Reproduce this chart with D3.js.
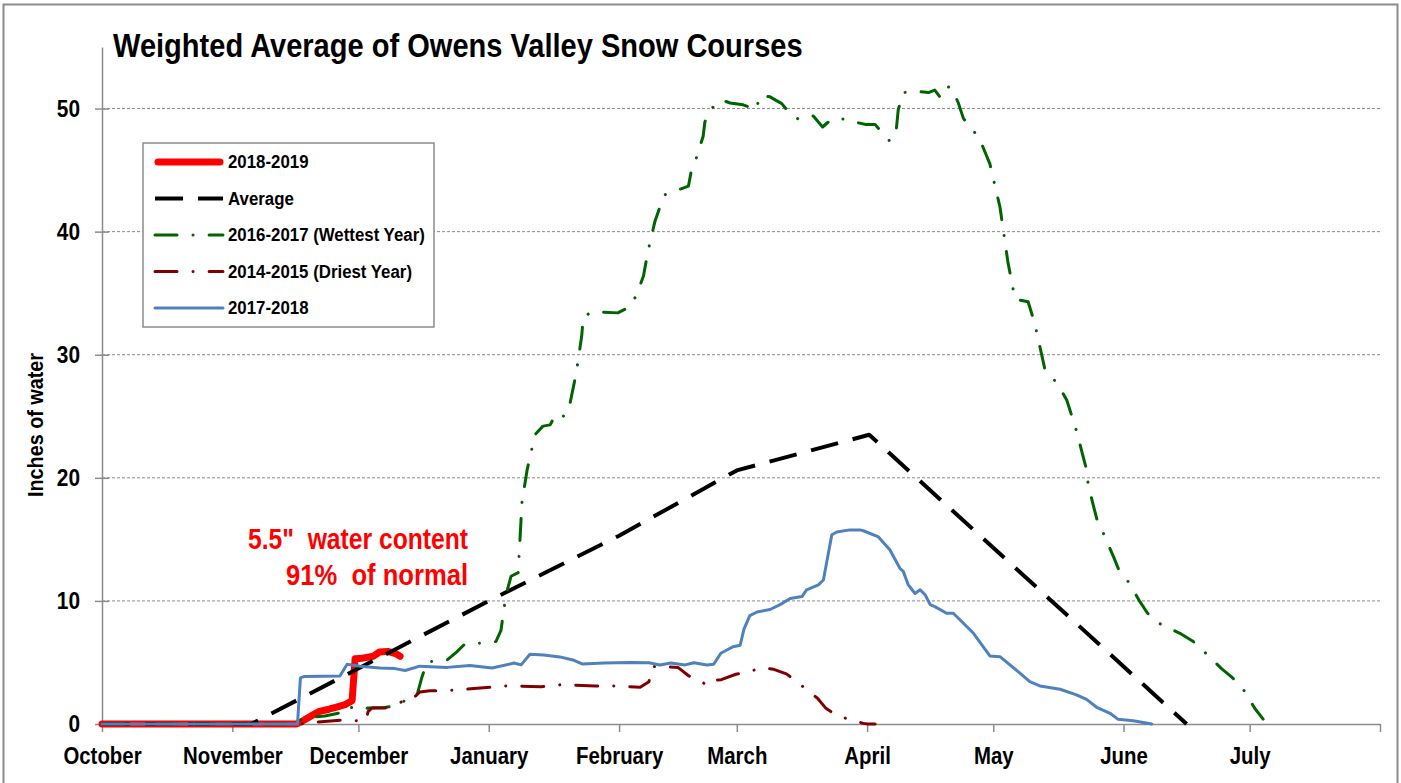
<!DOCTYPE html>
<html><head><meta charset="utf-8">
<script src="https://cdn.jsdelivr.net/npm/d3@7"></script>
<style>
html,body{margin:0;padding:0;background:#fff;}
svg{display:block;}
text{font-family:'Liberation Sans Narrow','Arial Narrow','Liberation Sans',Arial,sans-serif;font-weight:bold;fill:#000;}
</style></head><body>
<svg id="chart" width="1401" height="783"></svg>
<script>
// ---------- data (x = days since Oct 1 2018, y = inches of water) ----------
const monthLabels = ["October","November","December","January","February","March","April","May","June","July",""];
const yTickValues = [0,10,20,30,40,50];
const seriesNames = ["2018-2019","Average","2016-2017 (Wettest Year)","2014-2015 (Driest Year)","2017-2018"];

const season2018_2019 = [[0,0],[46.3,0],[48,0.3],[50,0.7],[51.5,1.0],[54,1.2],[56,1.4],[58,1.6],[59.5,1.9],[60.2,5.3],[62,5.35],[64.5,5.5],[66,5.85],[68,5.9],[70,5.7],[70.9,5.5]];

const averageSeason = [[0,0],[35.5,0],[92,10.0],[123,15.3],[151,20.6],[182.5,23.5],[258,0]];

const wettest2016_2017 = [[0,0],[46,0],[47.6,0.4],[50.2,0.57],[53,0.65],[56.6,0.9],[58,1.4],[60.2,1.3],[61.8,1.15],[63.3,1.3],[67.3,1.35],[69.5,1.45],[72.1,1.9],[74.9,2.3],[76.1,3.8],[77.3,5.05],[82.1,5.2],[84.2,5.8],[86.3,6.5],[91.8,6.6],[93.7,6.7],[94.9,7.6],[96.1,10.5],[97.3,12.0],[99,12.3],[99.9,18],[101.1,20.6],[103,23.5],[104.9,24.2],[106.6,24.3],[108,25.2],[109.9,25.0],[111.3,26.0],[112.8,28.5],[114.1,31.5],[114.5,33.1],[116.8,33.5],[122.7,33.4],[125.6,33.9],[127.2,34.9],[128.8,36.4],[129.6,37.9],[130.4,39.2],[131.5,40.8],[132.7,42.0],[133.9,43.0],[139.5,43.7],[140.1,44.8],[141.3,45.9],[143,47.75],[143.4,48.9],[144.6,49.9],[147.4,50.7],[149.4,50.45],[152.5,50.3],[155.6,49.9],[156.5,51.05],[158.9,50.95],[161.7,50.4],[164.1,49.4],[166,49.1],[169.2,49.4],[171.4,48.5],[173.6,49.15],[176.3,49.15],[179.1,48.9],[181.7,48.7],[183.9,48.7],[187.4,47.35],[188.9,48.15],[189.4,49.9],[190.6,51.3],[193.6,51.4],[196.6,51.3],[198.1,51.5],[199.3,50.95],[200.5,51.8],[202.1,51.7],[203.7,50.45],[204.9,49.2],[206.5,48.55],[208.8,47.5],[211.2,45.5],[213.6,42],[215.5,37.5],[217.2,34.5],[220.3,34.3],[221.9,32.5],[224.3,28.8],[227.4,27.6],[229.5,26.3],[230.9,24.8],[231.8,23.8],[233.4,21.7],[234.2,20.65],[234.6,19.4],[236,17.5],[236.8,16.45],[238.2,15.5],[240.6,13.6],[241.9,12.5],[244.1,11.57],[246.9,9.94],[248.7,9.0],[251.3,8.2],[256.4,7.37],[259.4,6.75],[261.6,6.07],[266.3,4.5],[268.6,3.85],[271.1,3.03],[274.2,1.28],[276.2,0.4]];

const driest2014_2015 = [[0,0],[47.1,0],[50.7,0.15],[56.6,0.3],[60.4,0.27],[62.8,0.3],[63.3,1.0],[64.2,1.3],[67.3,1.3],[69.7,1.6],[72.1,1.9],[73.7,2.0],[75.6,2.6],[78,2.7],[81.1,2.7],[86.3,2.82],[92.3,2.98],[96.1,3.09],[104.4,3.03],[106.6,3.09],[109.4,3.2],[117.3,3.09],[121.6,3.09],[128,2.98],[130.1,3.44],[130.8,4.6],[131.7,4.7],[137,4.6],[139.6,3.9],[142.4,3.44],[144,3.17],[145.1,3.55],[147.3,3.6],[150.8,4.04],[153.9,4.25],[157.1,4.58],[159.8,4.44],[162.8,4.07],[165.3,3.44],[167.9,2.7],[170.2,2.09],[172.2,1.27],[174.6,0.73],[177.9,0.35],[181.1,0.05],[182.2,0],[183.9,0]];

const season2017_2018 = [[0,0],[46.5,0],[47.2,3.75],[48,3.85],[56.6,3.9],[58.3,4.85],[61.4,4.7],[66.1,4.55],[69.7,4.5],[72.1,4.35],[75.6,4.7],[82.1,4.6],[87.5,4.75],[92.8,4.55],[98,4.95],[99.7,4.8],[101.8,5.67],[105.1,5.6],[108.9,5.45],[112,5.2],[114.2,4.88],[119.4,4.95],[125.6,5.0],[130.1,4.97],[132.7,4.8],[135.3,4.95],[138.7,4.8],[140.8,4.98],[143.9,4.8],[145.5,4.85],[147.2,5.75],[150.1,6.28],[151.8,6.4],[152.7,7.7],[154.1,8.8],[155.8,9.1],[158.9,9.3],[161.3,9.7],[163.7,10.2],[166.5,10.35],[167.6,10.9],[170.4,11.3],[171.6,11.7],[173.6,15.37],[174.8,15.6],[177.9,15.77],[180.3,15.77],[181.1,15.7],[184.7,15.2],[187.4,14.15],[189.8,12.65],[190.6,12.4],[191.8,11.3],[193.4,10.6],[194.6,10.9],[195.8,10.5],[197,9.7],[198.1,9.54],[200.9,9.0],[202.5,9.0],[207.3,7.37],[211.2,5.53],[213.6,5.47],[218.4,4.12],[220.7,3.44],[223.1,3.09],[227.9,2.82],[231.8,2.36],[234.2,2.0],[236.6,1.36],[239.8,0.87],[241.7,0.38],[245.3,0.27],[249.7,0]];

const titleText = "Weighted Average of Owens Valley Snow Courses";
const yAxisTitle = "Inches of water";
const noteLines = ["5.5\"  water content", "91%  of normal"];

// ---------- layout ----------
const seasonStart = Date.UTC(2018,9,1);
const seasonEnd = Date.UTC(2019,7,1);
const toDate = d => new Date(seasonStart + d*864e5);
const M = {left:102, right:1380, top:47, bottom:724};

// horizontally condense text (emulates a narrow face)
function squeeze(sel, f){
  sel.each(function(){
    const w = this.getComputedTextLength();
    if (w > 0) d3.select(this).attr("textLength", (w*f).toFixed(1)).attr("lengthAdjust","spacingAndGlyphs");
  });
}

const svg = d3.select("#chart");
const x = d3.scaleUtc().domain([new Date(seasonStart), new Date(seasonEnd)]).range([M.left, M.right]);
const y = d3.scaleLinear().domain([0,55]).range([M.bottom, M.top]);

// outer frame
svg.append("rect").attr("x",3.5).attr("y",4.5).attr("width",1394).attr("height",800)
  .attr("fill","none").attr("stroke","#8c8c8c").attr("stroke-width",2);

// gridlines
svg.append("g").selectAll("line").data(yTickValues.filter(v=>v>0)).join("line")
  .attr("x1",M.left).attr("x2",M.right).attr("y1",d=>y(d)).attr("y2",d=>y(d))
  .attr("stroke","#8a8a8a").attr("stroke-width",1).attr("stroke-dasharray","3,2");

// x axis
const monthTicks = d3.utcMonth.range(new Date(seasonStart), new Date(seasonEnd + 864e5));
const xAxis = svg.append("g").attr("transform",`translate(0,${M.bottom})`)
  .call(d3.axisBottom(x).tickValues(monthTicks).tickSizeInner(8).tickSizeOuter(0).tickPadding(15)
    .tickFormat((d,i)=>monthLabels[i]));
xAxis.select(".domain").attr("stroke","#8c8c8c").attr("stroke-width",1.5);
xAxis.selectAll(".tick line").attr("stroke","#8c8c8c").attr("stroke-width",1.5);
xAxis.selectAll("text").attr("font-size",24).attr("fill","#000");
squeeze(xAxis.selectAll("text"), 0.85);

// y axis
const yAxis = svg.append("g").attr("transform",`translate(${M.left},0)`)
  .call(d3.axisLeft(y).tickValues(yTickValues).tickSizeInner(7).tickSizeOuter(0).tickPadding(15));
yAxis.select(".domain").attr("stroke","#8c8c8c").attr("stroke-width",1.5);
yAxis.selectAll(".tick line").attr("x1",7).attr("stroke","#8c8c8c").attr("stroke-width",1.5);
yAxis.selectAll("text").attr("font-size",24).attr("fill","#000");
squeeze(yAxis.selectAll("text"), 0.87);

// y axis title
const yt = svg.append("text").attr("transform","translate(43,425) rotate(-90)")
  .attr("text-anchor","middle").attr("font-size",22).text(yAxisTitle);
squeeze(yt, 0.9);

// title
const tt = svg.append("text").attr("x",113).attr("y",57).attr("font-size",33).text(titleText);
squeeze(tt, 0.88);

// series
const styles = [
  {data:season2018_2019, color:"#ff0000", width:7, dash:null, cap:"round"},
  {data:averageSeason, color:"#000000", width:4, dash:"28,15", cap:"butt"},
  {data:wettest2016_2017, color:"#006400", width:3, dash:"22,16,0.1,16", cap:"round"},
  {data:driest2014_2015, color:"#800000", width:3, dash:"22,16,0.1,16", cap:"round"},
  {data:season2017_2018, color:"#4f81bd", width:3, dash:null, cap:"round"}
];
const line = d3.line().x(d=>x(toDate(d[0]))).y(d=>y(d[1]));
const gS = svg.append("g");
styles.forEach(s=>{
  gS.append("path").attr("d",line(s.data)).attr("fill","none")
    .attr("stroke",s.color).attr("stroke-width",s.width)
    .attr("stroke-linejoin","round").attr("stroke-linecap",s.cap)
    .attr("stroke-dasharray",s.dash);
});

// legend
const lg = svg.append("g");
lg.append("rect").attr("x",143).attr("y",143).attr("width",291).attr("height",184)
  .attr("fill","#fff").attr("stroke","#8c8c8c").attr("stroke-width",1.5);
const rowY = d3.scalePoint().domain(seriesNames).range([162,308]);
seriesNames.forEach((n,i)=>{
  const s = styles[i];
  const yy = rowY(n);
  const thick = s.width > 5;
  lg.append("line").attr("x1", thick?158:155).attr("x2", thick?220:223)
    .attr("y1",yy).attr("y2",yy)
    .attr("stroke",s.color).attr("stroke-width",s.width)
    .attr("stroke-linecap",s.cap).attr("stroke-dasharray",s.dash);
  const t = lg.append("text").attr("x",228).attr("y",yy).attr("dy","0.36em")
    .attr("font-size",18).text(n);
  squeeze(t, 0.935);
});

// annotation (two lines, right-aligned)
const noteWidths = [220, 182];
noteLines.forEach((s,i)=>{
  svg.append("text").attr("x",468).attr("y",549 + i*36).attr("text-anchor","end")
    .attr("xml:space","preserve").attr("font-size",29).style("fill","#ff0000")
    .attr("textLength",noteWidths[i]).attr("lengthAdjust","spacingAndGlyphs").text(s);
});
</script>
</body></html>
